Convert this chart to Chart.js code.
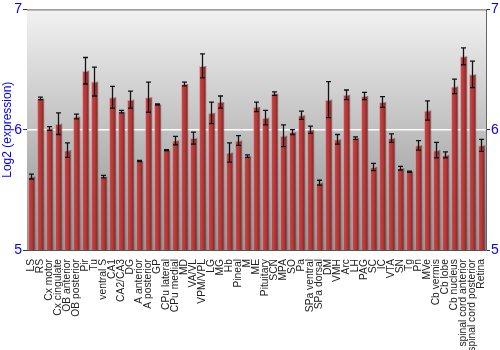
<!DOCTYPE html>
<html>
<head>
<meta charset="utf-8">
<script src="https://cdn.jsdelivr.net/npm/chart.js@4.4.0/dist/chart.umd.min.js"></script>
<style>
  html, body { margin: 0; padding: 0; background: #fff; }
  #wrap { width: 500px; height: 350px; }
</style>
</head>
<body>
<div id="wrap"><canvas id="chart" width="500" height="350"></canvas></div>
<script>
// brain regions along the x axis
const regions = [
  'LS', 'RS', 'Cx motor', 'Cx cingulate', 'OB anterior', 'OB posterior', 'Pir', 'Tu',
  'ventral S', 'CA1', 'CA2/CA3', 'DG', 'A anterior', 'A posterior', 'GP', 'CPu lateral',
  'CPu medial', 'MD', 'VA/VL', 'VPM/VPL', 'LG', 'MG', 'Hb', 'Pineal', 'M', 'ME',
  'Pituitary', 'SCN', 'MPA', 'SO', 'Pa', 'SPa ventral', 'SPa dorsal', 'DM', 'VMH', 'Arc',
  'LH', 'PAG', 'SC', 'IC', 'VTA', 'SN', 'Tg', 'Pn', 'MVe', 'Cb vermis', 'Cb lobe',
  'Cb nucleus', 'spinal cord anterior', 'spinal cord posterior', 'Retina'
];

// log2 expression per region
const expression = [
  5.61, 6.26, 6.01, 6.05, 5.83, 6.11, 6.49, 6.40,
  5.61, 6.27, 6.15, 6.25, 5.74, 6.27, 6.21, 5.83,
  5.91, 6.38, 5.93, 6.53, 6.14, 6.23, 5.81, 5.91, 5.78, 6.19,
  6.10, 6.30, 5.95, 5.98, 6.12, 6.00, 5.56, 6.25, 5.92, 6.29,
  5.93, 6.28, 5.69, 6.23, 5.93, 5.68, 5.65, 5.87, 6.16, 5.83, 5.79,
  6.36, 6.61, 6.46, 5.87
];

// standard error (half height of the error bar)
const errors = [
  0.02, 0.01, 0.015, 0.09, 0.06, 0.02, 0.11, 0.12,
  0.01, 0.09, 0.01, 0.07, 0.005, 0.125, 0.005, 0.005,
  0.035, 0.015, 0.05, 0.1, 0.09, 0.05, 0.08, 0.04, 0.01, 0.04,
  0.06, 0.015, 0.09, 0.02, 0.035, 0.03, 0.02, 0.15, 0.04, 0.04,
  0.01, 0.03, 0.03, 0.045, 0.035, 0.015, 0.005, 0.04, 0.08, 0.065, 0.025,
  0.06, 0.07, 0.11, 0.05
];

const yMin = 5;
const yMax = 7;

Chart.defaults.font.family = '"Liberation Sans", Arial, sans-serif';

// grey gradient behind the bars
const plotBackground = {
  id: 'plotBackground',
  beforeDatasetsDraw(chart) {
    const { ctx, chartArea: a } = chart;
    const g = ctx.createLinearGradient(0, a.top, 0, a.bottom);
    g.addColorStop(0, '#f2f2f2');
    g.addColorStop(1, '#8e8e8e');
    ctx.save();
    ctx.fillStyle = g;
    ctx.fillRect(a.left, a.top, a.right - a.left, a.bottom - a.top);
    // white reference line at 6
    const y6 = chart.scales.y.getPixelForValue(6);
    ctx.strokeStyle = '#ffffff';
    ctx.lineWidth = 1.5;
    ctx.beginPath();
    ctx.moveTo(a.left, y6);
    ctx.lineTo(a.right, y6);
    ctx.stroke();
    ctx.restore();
  }
};

// cylinder-like shading on bars and error bars
const barExtras = {
  id: 'barExtras',
  afterDatasetsDraw(chart) {
    const { ctx, chartArea: a } = chart;
    const meta = chart.getDatasetMeta(0);
    const yScale = chart.scales.y;
    ctx.save();
    ctx.beginPath();
    ctx.rect(a.left, a.top, a.right - a.left, a.bottom - a.top);
    ctx.clip();
    meta.data.forEach((bar, i) => {
      const { x, y, width } = bar.getProps(['x', 'y', 'width'], true);
      const left = x - width / 2;
      const g = ctx.createLinearGradient(left, 0, left + width, 0);
      g.addColorStop(0, 'rgba(255,255,255,0.18)');
      g.addColorStop(0.35, 'rgba(255,255,255,0.05)');
      g.addColorStop(0.7, 'rgba(0,0,0,0.08)');
      g.addColorStop(1, 'rgba(0,0,0,0.45)');
      ctx.fillStyle = g;
      ctx.fillRect(left, y, width, a.bottom - y);

      const hi = yScale.getPixelForValue(expression[i] + errors[i]);
      const lo = yScale.getPixelForValue(expression[i] - errors[i]);
      ctx.strokeStyle = '#111';
      ctx.lineWidth = 1.3;
      ctx.beginPath();
      ctx.moveTo(x, hi);
      ctx.lineTo(x, lo);
      ctx.moveTo(x - 2.5, hi);
      ctx.lineTo(x + 2.5, hi);
      ctx.moveTo(x - 2.5, lo);
      ctx.lineTo(x + 2.5, lo);
      ctx.stroke();
    });
    ctx.restore();

    // frame on top and right
    ctx.save();
    ctx.strokeStyle = '#666';
    ctx.lineWidth = 1;
    ctx.beginPath();
    ctx.moveTo(a.left, a.top + 0.5);
    ctx.lineTo(a.right + 0.5, a.top + 0.5);
    ctx.lineTo(a.right + 0.5, a.bottom);
    ctx.stroke();
    ctx.restore();
  }
};

new Chart(document.getElementById('chart'), {
  type: 'bar',
  data: {
    labels: regions,
    datasets: [{
      data: expression,
      backgroundColor: '#b83434',
      borderColor: 'rgba(225,130,130,0.55)',
      borderWidth: 1,
      barPercentage: 0.82,
      categoryPercentage: 1
    }]
  },
  options: {
    responsive: false,
    animation: false,
    layout: { padding: { top: 9, right: 0, bottom: 0, left: 0 } },
    plugins: {
      legend: { display: false },
      tooltip: { enabled: false }
    },
    scales: {
      x: {
        grid: { display: false },
        border: { color: '#555' },
        ticks: {
          color: '#222',
          font: { size: 10.3 },
          minRotation: 90,
          maxRotation: 90,
          autoSkip: false,
          padding: 1
        },
        afterFit(scale) { scale.height = 100; }
      },
      y: {
        position: 'left',
        min: yMin,
        max: yMax,
        ticks: { stepSize: 1, color: '#0000ff', font: { size: 14 }, padding: 1 },
        grid: { drawOnChartArea: false, tickColor: '#333', tickLength: 4 },
        border: { color: '#555' },
        title: {
          display: true,
          text: 'Log2 (expression)',
          color: '#0000ff',
          font: { size: 12 },
          padding: 0
        },
        afterFit(scale) { scale.width = 27; }
      },
      y2: {
        position: 'right',
        min: yMin,
        max: yMax,
        ticks: { stepSize: 1, color: '#0000ff', font: { size: 14 }, padding: 1 },
        grid: { drawOnChartArea: false, tickColor: '#333', tickLength: 4 },
        border: { color: '#888' },
        afterFit(scale) { scale.width = 14; }
      }
    }
  },
  plugins: [plotBackground, barExtras]
});
</script>
</body>
</html>
